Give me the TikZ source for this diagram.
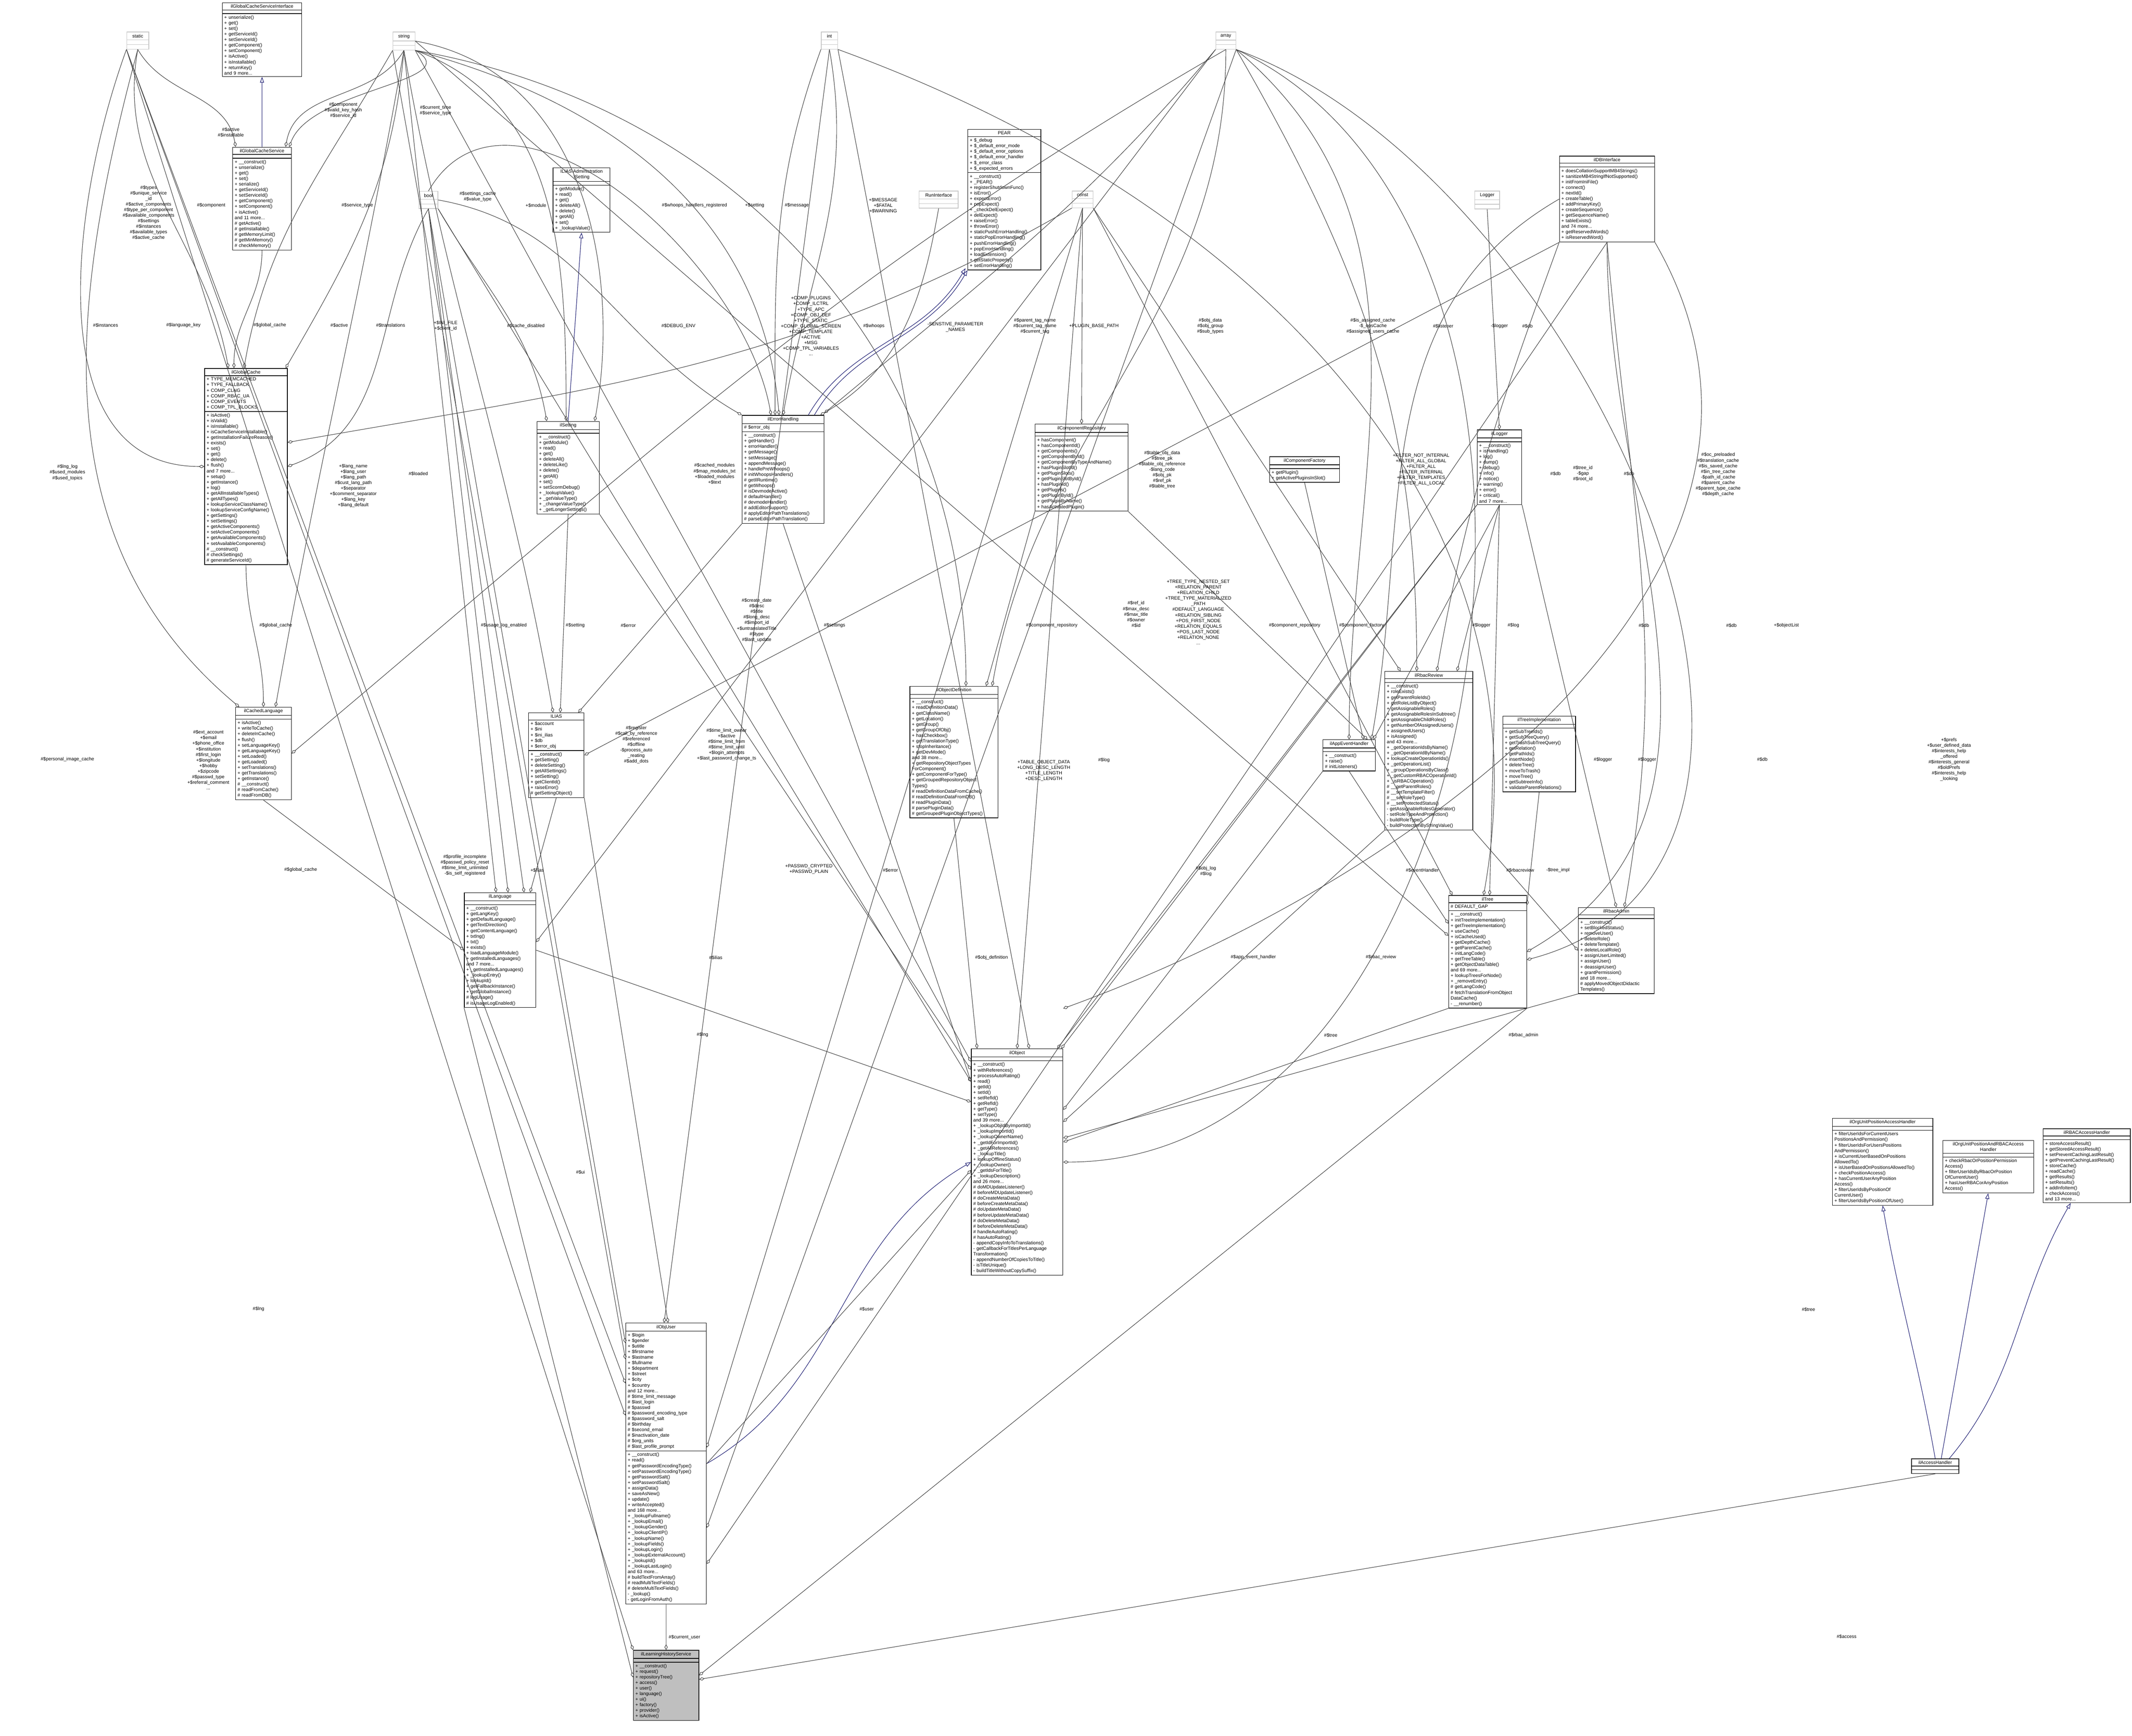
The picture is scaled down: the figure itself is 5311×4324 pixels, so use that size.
\documentclass[tikz,border=0pt]{standalone}
\usepackage{fontspec}
\setmainfont{Liberation Sans}
\usetikzlibrary{shapes.multipart,arrows.meta,calc}
\newcommand\vH{\#\$}
\newcommand\vP{+\$}
\newcommand\vM{-\$}
\definecolor{edgegray}{HTML}{404040}
\definecolor{inhblue}{HTML}{191970}
\tikzset{
  cls/.style={rectangle split, rectangle split parts=3, draw, line width=0.4pt,
    rectangle split empty part height=0.13cm, inner xsep=0.05cm, inner ysep=0.04cm,
    text width=#1, align=left, anchor=north west, font=\fontsize{3.3}{3.95}\selectfont, fill=white},
  typ/.style={rectangle split, rectangle split parts=3, draw=gray!45, line width=0.4pt,
    rectangle split empty part height=0.16cm, inner xsep=0.03cm, inner ysep=0.05cm,
    text width=#1, align=center, anchor=north west, font=\fontsize{3.3}{3.95}\selectfont, fill=white},
  lbl/.style={align=center, inner sep=0pt, font=\fontsize{3.3}{3.95}\selectfont},
  agg/.style={draw=edgegray, line width=0.35pt, -{Diamond[open,length=0.14cm,width=0.08cm]}},
  inh/.style={draw=inhblue, line width=0.35pt, -{Triangle[open,length=0.14cm,width=0.1cm]}}
}
\begin{document}
\begin{tikzpicture}[x=0.01cm,y=-0.01cm]
  \useasboundingbox (0,0) rectangle (5311,4324);

  % builtin types
  \node[typ=0.49cm] (static) at (315,79) {static\nodepart{two}\nodepart{three}};
  \node[typ=0.49cm] (string) at (978,79) {string\nodepart{two}\nodepart{three}};
  \node[typ=0.35cm] (int) at (2045,79) {int\nodepart{two}\nodepart{three}};
  \node[typ=0.44cm] (array) at (3028,79) {array\nodepart{two}\nodepart{three}};
  \node[typ=0.41cm] (bool) at (1043,476) {bool\nodepart{two}\nodepart{three}};
  \node[typ=0.46cm] (const) at (2670,475) {const\nodepart{two}\nodepart{three}};
  \node[typ=0.56cm] (logger) at (3673,475) {Logger\nodepart{two}\nodepart{three}};
  \node[typ=0.91cm] (runif) at (2289,475) {RunInterface\nodepart{two}\nodepart{three}};

  % classes
  \node[cls=1.88cm] (gcsi) at (553,6) {{\centering ilGlobalCacheServiceInterface\par}\nodepart{two}\nodepart{three}
    + unserialize()\\+ get()\\+ set()\\+ getServiceId()\\+ setServiceId()\\+ getComponent()\\+ setComponent()\\+ isActive()\\+ isInstallable()\\+ returnKey()\\and 9 more...};
  \node[cls=1.36cm] (gcs) at (579,366) {{\centering ilGlobalCacheService\par}\nodepart{two}\nodepart{three}
    + \_\_construct()\\+ unserialize()\\+ get()\\+ set()\\+ serialize()\\+ getServiceId()\\+ setServiceId()\\+ getComponent()\\+ setComponent()\\+ isActive()\\and 11 more...\\\# getActive()\\\# getInstallable()\\\# getMemoryLimit()\\\# getMinMemory()\\\# checkMemory()};
  \node[cls=1.96cm] (gc) at (509,917) {{\centering ilGlobalCache\par}\nodepart{two}
    + TYPE\_MEMCACHED\\+ TYPE\_FALLBACK\\+ COMP\_CLNG\\+ COMP\_RBAC\_UA\\+ COMP\_EVENTS\\+ COMP\_TPL\_BLOCKS\nodepart{three}
    + isActive()\\+ isValid()\\+ isInstallable()\\+ isCacheServiceInstallable()\\+ getInstallationFailureReason()\\+ exists()\\+ set()\\+ get()\\+ delete()\\+ flush()\\and 7 more...\\+ setup()\\+ getInstance()\\+ log()\\+ getAllInstallableTypes()\\+ getAllTypes()\\+ lookupServiceClassName()\\+ lookupServiceConfigName()\\+ getSettings()\\+ setSettings()\\+ getActiveComponents()\\+ setActiveComponents()\\+ getAvailableComponents()\\+ setAvailableComponents()\\\# \_\_construct()\\\# checkSettings()\\\# generateServiceId()};
  \node[cls=1.29cm] (cl) at (586,1761) {{\centering ilCachedLanguage\par}\nodepart{two}\nodepart{three}
    + isActive()\\+ writeToCache()\\+ deleteInCache()\\+ flush()\\+ setLanguageKey()\\+ getLanguageKey()\\+ setLoaded()\\+ getLoaded()\\+ setTranslations()\\+ getTranslations()\\+ getInstance()\\\# \_\_construct()\\\# readFromCache()\\\# readFromDB()};
  \node[cls=1.32cm] (ads) at (1377,417) {{\centering ILIAS\textbackslash Administration\\\textbackslash Setting\par}\nodepart{two}\nodepart{three}
    + getModule()\\+ read()\\+ get()\\+ deleteAll()\\+ delete()\\+ getAll()\\+ set()\\+ \_lookupValue()};
  \node[cls=1.45cm] (ils) at (1337,1049) {{\centering ilSetting\par}\nodepart{two}\nodepart{three}
    + \_\_construct()\\+ getModule()\\+ read()\\+ get()\\+ deleteAll()\\+ deleteLike()\\+ delete()\\+ getAll()\\+ set()\\+ setScormDebug()\\+ \_lookupValue()\\+ \_getValueType()\\+ \_changeValueType()\\+ \_getLongerSettings()};
  \node[cls=1.94cm] (eh) at (1848,1034) {{\centering ilErrorHandling\par}\nodepart{two}\# \$error\_obj\nodepart{three}
    + \_\_construct()\\+ getHandler()\\+ errorHandler()\\+ getMessage()\\+ setMessage()\\+ appendMessage()\\+ handlePreWhoops()\\\# initWhoopsHandlers()\\\# getIlRuntime()\\\# getWhoops()\\\# isDevmodeActive()\\\# defaultHandler()\\\# devmodeHandler()\\\# addEditorSupport()\\\# applyEditorPathTranslations()\\\# parseEditorPathTranslation()};
  \node[cls=1.72cm] (pear) at (2410,322) {{\centering PEAR\par}\nodepart{two}
    + \$\_debug\\+ \$\_default\_error\_mode\\+ \$\_default\_error\_options\\+ \$\_default\_error\_handler\\+ \$\_error\_class\\+ \$\_expected\_errors\nodepart{three}
    + \_\_construct()\\+ \_PEAR()\\+ registerShutdownFunc()\\+ isError()\\+ expectError()\\+ popExpect()\\+ \_checkDelExpect()\\+ delExpect()\\+ raiseError()\\+ throwError()\\+ staticPushErrorHandling()\\+ staticPopErrorHandling()\\+ pushErrorHandling()\\+ popErrorHandling()\\+ loadExtension()\\+ getStaticProperty()\\+ setErrorHandling()};
  \node[cls=2.21cm] (crep) at (2578,1056) {{\centering ilComponentRepository\par}\nodepart{two}\nodepart{three}
    + hasComponent()\\+ hasComponentId()\\+ getComponents()\\+ getComponentById()\\+ getComponentByTypeAndName()\\+ hasPluginSlotId()\\+ getPluginSlots()\\+ getPluginSlotById()\\+ hasPluginId()\\+ getPlugins()\\+ getPluginById()\\+ getPluginByName()\\+ hasActivatedPlugin()};
  \node[cls=1.64cm] (cfac) at (3162,1137) {{\centering ilComponentFactory\par}\nodepart{two}\nodepart{three}
    + getPlugin()\\+ getActivePluginsInSlot()};
  \node[cls=1.01cm] (ilog) at (3679,1070) {{\centering ilLogger\par}\nodepart{two}\nodepart{three}
    + \_\_construct()\\+ isHandling()\\+ log()\\+ dump()\\+ debug()\\+ info()\\+ notice()\\+ warning()\\+ error()\\+ critical()\\and 7 more...};
  \node[cls=2.27cm] (dbi) at (3884,388) {{\centering ilDBInterface\par}\nodepart{two}\nodepart{three}
    + doesCollationSupportMB4Strings()\\+ sanitizeMB4StringIfNotSupported()\\+ initFromIniFile()\\+ connect()\\+ nextId()\\+ createTable()\\+ addPrimaryKey()\\+ createSequence()\\+ getSequenceName()\\+ tableExists()\\and 74 more...\\+ getReservedWords()\\+ isReservedWord()};
  \node[cls=2.09cm] (odef) at (2266,1709) {{\centering ilObjectDefinition\par}\nodepart{two}\nodepart{three}
    + \_\_construct()\\+ readDefinitionData()\\+ getClassName()\\+ getLocation()\\+ getGroup()\\+ getGroupOfObj()\\+ hasCheckbox()\\+ getTranslationType()\\+ stopInheritance()\\+ getDevMode()\\and 38 more...\\+ getRepositoryObjectTypes\\ForComponent()\\+ getComponentForType()\\+ getGroupedRepositoryObject\\Types()\\\# readDefinitionDataFromCache()\\\# readDefinitionDataFromDB()\\\# readPluginData()\\\# parsePluginData()\\\# getGroupedPluginObjectTypes()};
  \node[cls=1.20cm] (aeh) at (3295,1842) {{\centering ilAppEventHandler\par}\nodepart{two}\nodepart{three}
    + \_\_construct()\\+ raise()\\\# initListeners()};
  \node[cls=2.09cm] (rrev) at (3449,1672) {{\centering ilRbacReview\par}\nodepart{two}\nodepart{three}
    + \_\_construct()\\+ roleExists()\\+ getParentRoleIds()\\+ getRoleListByObject()\\+ getAssignableRoles()\\+ getAssignableRolesInSubtree()\\+ getAssignableChildRoles()\\+ getNumberOfAssignedUsers()\\+ assignedUsers()\\+ isAssigned()\\and 43 more...\\+ \_getOperationIdsByName()\\+ \_getOperationIdByName()\\+ lookupCreateOperationIds()\\+ \_getOperationList()\\+ \_groupOperationsByClass()\\+ \_getCustomRBACOperationId()\\+ \_isRBACOperation()\\\# \_\_getParentRoles()\\\# \_\_setTemplateFilter()\\\# \_\_setRoleType()\\\# \_\_setProtectedStatus()\\- getAssignableRolesGenerator()\\- setRoleTypeAndProtection()\\- buildRoleType()\\- buildProtectionByStringValue()};
  \node[cls=1.71cm] (timpl) at (3743,1783) {{\centering ilTreeImplementation\par}\nodepart{two}\nodepart{three}
    + getSubTreeIds()\\+ getSubTreeQuery()\\+ getTrashSubTreeQuery()\\+ getRelation()\\+ getPathIds()\\+ insertNode()\\+ deleteTree()\\+ moveToTrash()\\+ moveTree()\\+ getSubtreeInfo()\\+ validateParentRelations()};
  \node[cls=1.84cm] (tree) at (3608,2230) {{\centering ilTree\par}\nodepart{two}\# DEFAULT\_GAP\nodepart{three}
    + \_\_construct()\\+ initTreeImplementation()\\+ getTreeImplementation()\\+ useCache()\\+ isCacheUsed()\\+ getDepthCache()\\+ getParentCache()\\+ initLangCode()\\+ getTreeTable()\\+ getObjectDataTable()\\and 69 more...\\+ lookupTreesForNode()\\+ \_removeEntry()\\\# getLangCode()\\\# fetchTranslationFromObject\\DataCache()\\- \_\_renumber()};
  \node[cls=1.79cm] (radm) at (3931,2260) {{\centering ilRbacAdmin\par}\nodepart{two}\nodepart{three}
    + \_\_construct()\\+ setBlockedStatus()\\+ removeUser()\\+ deleteRole()\\+ deleteTemplate()\\+ deleteLocalRole()\\+ assignUserLimited()\\+ assignUser()\\+ deassignUser()\\+ grantPermission()\\and 18 more...\\\# applyMovedObjectDidactic\\Templates()};
  \node[cls=1.28cm] (ilias) at (1316,1775) {{\centering ILIAS\par}\nodepart{two}
    + \$account\\+ \$ini\\+ \$ini\_ilias\\+ \$db\\+ \$error\_obj\nodepart{three}
    + \_\_construct()\\+ getSetting()\\+ deleteSetting()\\+ getAllSettings()\\+ setSetting()\\+ getClientId()\\+ raiseError()\\\# getSettingObject()};
  \node[cls=1.68cm] (lang) at (1156,2223) {{\centering ilLanguage\par}\nodepart{two}\nodepart{three}
    + \_\_construct()\\+ getLangKey()\\+ getDefaultLanguage()\\+ getTextDirection()\\+ getContentLanguage()\\+ txtlng()\\+ txt()\\+ exists()\\+ loadLanguageModule()\\+ getInstalledLanguages()\\and 7 more...\\+ \_getInstalledLanguages()\\+ \_lookupEntry()\\+ lookupId()\\+ getFallbackInstance()\\+ getGlobalInstance()\\\# logUsage()\\\# isUsageLogEnabled()};
  \node[cls=2.18cm] (obj) at (2419,2612) {{\centering ilObject\par}\nodepart{two}\nodepart{three}
    + \_\_construct()\\+ withReferences()\\+ processAutoRating()\\+ read()\\+ getId()\\+ setId()\\+ setRefId()\\+ getRefId()\\+ getType()\\+ setType()\\and 39 more...\\+ \_lookupObjIdByImportId()\\+ \_lookupImportId()\\+ \_lookupOwnerName()\\+ \_getIdForImportId()\\+ \_getAllReferences()\\+ \_lookupTitle()\\+ lookupOfflineStatus()\\+ \_lookupOwner()\\+ \_getIdsForTitle()\\+ \_lookupDescription()\\and 26 more...\\\# doMDUpdateListener()\\\# beforeMDUpdateListener()\\\# doCreateMetaData()\\\# beforeCreateMetaData()\\\# doUpdateMetaData()\\\# beforeUpdateMetaData()\\\# doDeleteMetaData()\\\# beforeDeleteMetaData()\\\# handleAutoRating()\\\# hasAutoRating()\\- appendCopyInfoToTranslations()\\- getCallbackForTitlesPerLanguage\\Transformation()\\- appendNumberOfCopiesToTitle()\\- isTitleUnique()\\- buildTitleWithoutCopySuffix()};
  \node[cls=1.91cm] (user) at (1558,3295) {{\centering ilObjUser\par}\nodepart{two}
    + \$login\\+ \$gender\\+ \$utitle\\+ \$firstname\\+ \$lastname\\+ \$fullname\\+ \$department\\+ \$street\\+ \$city\\+ \$country\\and 12 more...\\\# \$time\_limit\_message\\\# \$last\_login\\\# \$passwd\\\# \$password\_encoding\_type\\\# \$password\_salt\\\# \$birthday\\\# \$second\_email\\\# \$inactivation\_date\\\# \$org\_units\\\# \$last\_profile\_prompt\nodepart{three}
    + \_\_construct()\\+ read()\\+ getPasswordEncodingType()\\+ setPasswordEncodingType()\\+ getPasswordSalt()\\+ setPasswordSalt()\\+ assignData()\\+ saveAsNew()\\+ update()\\+ writeAccepted()\\and 168 more...\\+ \_lookupFullname()\\+ \_lookupEmail()\\+ \_lookupGender()\\+ \_lookupClientIP()\\+ \_lookupName()\\+ \_lookupFields()\\+ \_lookupLogin()\\+ \_lookupExternalAccount()\\+ \_lookupId()\\+ \_lookupLastLogin()\\and 63 more...\\\# buildTextFromArray()\\\# readMultiTextFields()\\\# deleteMultiTextFields()\\- \_lookup()\\- getLoginFromAuth()};
  \node[cls=1.53cm, fill=gray!50] (lhs) at (1577,4110) {{\centering ilLearningHistoryService\par}\nodepart{two}\nodepart{three}
    + \_\_construct()\\+ request()\\+ repositoryTree()\\+ access()\\+ user()\\+ language()\\+ ui()\\+ factory()\\+ provider()\\+ isActive()};
  \node[cls=2.40cm] (opa) at (4564,2785) {{\centering ilOrgUnitPositionAccessHandler\par}\nodepart{two}\nodepart{three}
    + filterUserIdsForCurrentUsers\\PositionsAndPermission()\\+ filterUserIdsForUsersPositions\\AndPermission()\\+ isCurrentUserBasedOnPositions\\AllowedTo()\\+ isUserBasedOnPositionsAllowedTo()\\+ checkPositionAccess()\\+ hasCurrentUserAnyPosition\\Access()\\+ filterUserIdsByPositionOf\\CurrentUser()\\+ filterUserIdsByPositionOfUser()};
  \node[cls=2.16cm] (opr) at (4839,2840) {{\centering ilOrgUnitPositionAndRBACAccess\\Handler\par}\nodepart{two}\nodepart{three}
    + checkRbacOrPositionPermission\\Access()\\+ filterUserIdsByRbacOrPosition\\OfCurrentUser()\\+ hasUserRBACorAnyPosition\\Access()};
  \node[cls=2.07cm] (rah) at (5089,2811) {{\centering ilRBACAccessHandler\par}\nodepart{two}\nodepart{three}
    + storeAccessResult()\\+ getStoredAccessResult()\\+ setPreventCachingLastResult()\\+ getPreventCachingLastResult()\\+ storeCache()\\+ readCache()\\+ getResults()\\+ setResults()\\+ addInfoItem()\\+ checkAccess()\\and 13 more...};
  \node[cls=1.08cm] (acc) at (4761,3633) {{\centering ilAccessHandler\par}\nodepart{two}\nodepart{three}};

  % inheritance
  \draw[inh] (gcs.north) -- (gcsi.south);
  \draw[inh] (ils.north) -- (ads.south);
  \draw[inh] ($(eh.north east)+(-40,0)$) to[out=60,in=-120] ($(pear.south west)+(-5,-5)$);
  \draw[inh] ($(eh.north east)+(-25,0)$) to[out=60,in=-120] ($(pear.south west)+(0,0)$);
  \draw[inh] (user.east) to[out=30,in=-150] (obj.west);
  \draw[inh] (acc.north) to[out=100,in=-80] (opa.south);
  \draw[inh] ($(acc.north)+(15,0)$) to[out=80,in=-100] (opr.south);
  \draw[inh] ($(acc.north)+(35,0)$) to[out=50,in=-120] ($(rah.south)+(-40,0)$);

  % aggregation
  \draw[agg] (static.south) to[out=-60,in=100] ($(gcs.north west)+(8,0)$);
  \draw[agg] (string.south) to[out=-120,in=80] ($(gcs.north east)+(-15,0)$);
  \draw[agg] (string.south east) to[out=-30,in=70] ($(gcs.north east)+(-6,0)$);
  \draw[agg] (static.south) to[out=-100,in=100] ($(gc.north west)+(60,0)$);
  \draw[agg] (string.south west) to[out=-120,in=80] ($(gc.north)+(-5,0)$);
  \draw[agg] (string.south) to[out=-95,in=60] ($(gc.north east)+(-5,0)$);
  \draw[agg] (static.south west) to[out=-110,in=180] (gc.west);
  \draw[agg] (gcs.south) to[out=-90,in=90] ($(gc.north)+(-30,0)$);
  \draw[agg] (bool.south) to[out=-120,in=20] (gc.east);
  \draw[agg] (string.south) to[out=-100,in=80] ($(cl.north)+(30,0)$);
  \draw[agg] (array.south) to[out=-150,in=40] (cl.east);
  \draw[agg] (gc.south) to[out=-90,in=90] (cl.north);
  \draw[agg] (static.south) to[out=-105,in=140] ($(cl.north west)+(10,0)$);
  \draw[agg] (string.south) to[out=-80,in=100] ($(ilias.north)+(-8,0)$);
  \draw[agg] (bool.south east) to[out=-60,in=100] ($(ils.north west)+(25,0)$);
  \draw[agg] (string.south east) to[out=-20,in=90] ($(ils.north)+(-5,0)$);
  \draw[agg] (string.east) to[out=-10,in=80] ($(ils.north east)+(-12,0)$);
  \draw[agg] (bool.east) to[out=-10,in=150] (eh.north west);
  \draw[agg] (bool.north) to[out=60,in=100] ($(eh.north)+(-30,0)$);
  \draw[agg] (int.south west) to[out=-110,in=90] ($(eh.north)+(-20,0)$);
  \draw[agg] (string.south east) to[out=-15,in=95] ($(eh.north)+(-10,0)$);
  \draw[agg] (int.south) to[out=-80,in=80] ($(eh.north)+(0,0)$);
  \draw[agg] (runif.south) to[out=-100,in=30] ($(eh.north east)+(-10,0)$);
  \draw[agg] (array.south west) to[out=-130,in=40] ($(eh.north east)+(0,-5)$);
  \draw[agg] (const.south west) to[out=-150,in=10] ($(gc.east)+(0,-60)$);
  \draw[agg] (string.south east) to[out=-10,in=90] ($(odef.north)+(30,0)$);
  \draw[agg] (const.south) -- (crep.north);
  \draw[agg] (array.south) to[out=-90,in=80] ($(odef.north east)+(-15,0)$);
  \draw[agg] (array.south east) to[out=-60,in=90] ($(rrev.north)+(-30,0)$);
  \draw[agg] (array.south east) to[out=-40,in=90] ($(aeh.north)+(0,0)$);
  \draw[agg] (logger.south) -- (ilog.north);
  \draw[agg] (dbi.west) to[out=-150,in=80] ($(aeh.north east)+(-10,0)$);
  \draw[agg] (dbi.south west) to[out=-110,in=80] ($(rrev.north)+(20,0)$);
  \draw[agg] (int.south east) to[out=-20,in=80] ($(tree.north)+(-10,0)$);
  \draw[agg] (dbi.south) to[out=-90,in=30] (tree.east);
  \draw[agg] (dbi.south) to[out=-85,in=80] ($(radm.north)+(20,0)$);
  \draw[agg] (dbi.south east) to[out=-60,in=20] ($(obj.north east)+(0,-100)$);
  \draw[agg] (array.south east) to[out=-25,in=0] (obj.east);
  \draw[agg] (array.south east) to[out=-20,in=15] ($(tree.east)+(0,20)$);
  \draw[agg] (array.south east) -- ($(user.east)+(0,160)$);
  \draw[agg] (dbi.south) -- ($(user.east)+(0,250)$);
  \draw[agg] (dbi.south west) -- (ilias.east);
  \draw[agg] (ils.south) -- ($(ilias.north)+(10,0)$);
  \draw[agg] (bool.south) -- ($(lang.north east)+(-30,0)$);
  \draw[agg] (eh.south west) -- ($(ilias.north east)+(-15,0)$);
  \draw[agg] (array.south west) -- ($(lang.east)+(0,-20)$);
  \draw[agg] (string.south) -- ($(lang.north)+(-10,0)$);
  \draw[agg] (bool.south) -- ($(lang.north)+(20,0)$);
  \draw[agg] (bool.south) -- ($(user.west)+(0,-300)$);
  \draw[agg] (ilias.south) -- ($(lang.north east)+(-15,0)$);
  \draw[agg] (ilias.south east) -- ($(user.north)+(5,0)$);
  \draw[agg] (lang.east) -- ($(obj.west)+(0,-150)$);
  \draw[agg] (bool.south east) -- ($(obj.west)+(0,-200)$);
  \draw[agg] (int.south) -- ($(user.north)+(-5,0)$);
  \draw[agg] (const.south) -- ($(user.east)+(0,-40)$);
  \draw[agg] (string.south east) -- ($(obj.west)+(0,-250)$);
  \draw[agg] (odef.south) -- ($(obj.north west)+(15,0)$);
  \draw[agg] (const.south) -- (obj.north);
  \draw[agg] (ilog.south west) -- ($(obj.north east)+(-15,0)$);
  \draw[agg] (int.south east) -- ($(obj.north)+(30,0)$);
  \draw[agg] (const.south east) -- ($(tree.north west)+(10,0)$);
  \draw[agg] (crep.south west) -- ($(odef.north east)+(-30,0)$);
  \draw[agg] (crep.south east) -- ($(aeh.north east)+(-20,0)$);
  \draw[agg] (cfac.south) -- ($(aeh.north east)+(-30,0)$);
  \draw[agg] (string.east) -- ($(tree.west)+(0,-40)$);
  \draw[agg] (const.south east) -- ($(rrev.north west)+(40,0)$);
  \draw[agg] (ilog.south) -- ($(rrev.north east)+(-40,0)$);
  \draw[agg] (ilog.south) -- ($(aeh.north east)+(-5,0)$);
  \draw[agg] (ilog.south) -- ($(tree.north)+(5,0)$);
  \draw[agg] (ilog.south east) -- ($(radm.north)+(0,0)$);
  \draw[agg] (rrev.south east) -- (radm.west);
  \draw[agg] (timpl.south) -- ($(tree.north east)+(0,25)$);
  \draw[agg] (aeh.south) -- ($(tree.west)+(0,-70)$);
  \draw[agg] (rrev.south west) -- ($(obj.east)+(0,-100)$);
  \draw[agg] (aeh.south west) -- ($(obj.east)+(0,-130)$);
  \draw[agg] (tree.south west) -- ($(obj.east)+(0,-50)$);
  \draw[agg] (radm.south west) -- ($(obj.east)+(0,-60)$);
  \draw[agg] (ilog.south west) -- ($(obj.north east)+(-5,0)$);
  \draw[agg] (eh.south) -- ($(obj.west)+(0,-200)$);
  \draw[agg] (ils.south east) -- ($(obj.west)+(0,-230)$);
  \draw[agg] (user.east) -- ($(obj.west)+(0,20)$);
  \draw[agg] (user.south) -- (lhs.north);
  \draw[agg] (tree.south east) -- ($(lhs.east)+(0,-25)$);
  \draw[agg] (acc.south) -- ($(lhs.east)+(0,-15)$);
  \draw[agg] (lang.south west) -- ($(lhs.west)+(0,-20)$);
  \draw[agg] (static.south west) -- (lhs.north west);
  \draw[agg] (static.south west) -- ($(user.west)+(0,-120)$);
  \draw[agg] (static.south west) -- ($(user.west)+(0,-200)$);
  \draw[agg] (string.south west) -- ($(user.west)+(0,-260)$);
  \draw[agg] (cl.south) -- (lang.west);

  % labels
  \node[lbl] (l01) at (575,330) {\vH active\\\vH installable};
  \node[lbl] (l02) at (855,275) {\vH component\\\vH valid\_key\_hash\\\vH service\_id};
  \node[lbl] (l03) at (1085,275) {\vH current\_time\\\vH service\_type};
  \node[lbl] (l04) at (370,530) {\vH types\\\vH unique\_service\\\_id\\\vH active\_components\\\vH type\_per\_component\\\vH available\_components\\\vH settings\\\vH instances\\\vH available\_types\\\vH active\_cache};
  \node[lbl] (l05) at (526,512) {\vH component};
  \node[lbl] (l06) at (890,512) {\vH service\_type};
  \node[lbl] (l07) at (263,810) {\vH instances};
  \node[lbl] (l08) at (457,810) {\vH language\_key};
  \node[lbl] (l09) at (672,810) {\vH global\_cache};
  \node[lbl] (l10) at (845,810) {\vH active};
  \node[lbl] (l11) at (973,810) {\vH translations};
  \node[lbl] (l12) at (1110,812) {\vP INI\_FILE\\\vP client\_id};
  \node[lbl] (l13) at (1310,812) {\vH cache\_disabled};
  \node[lbl] (l14) at (1335,512) {\vP module};
  \node[lbl] (l15) at (1190,490) {\vH settings\_cache\\\vH value\_type};
  \node[lbl] (l16) at (1690,812) {\vH DEBUG\_ENV};
  \node[lbl] (l17) at (1730,512) {\vH whoops\_handlers\_registered};
  \node[lbl] (l18) at (1880,512) {\vP setting};
  \node[lbl] (l19) at (1985,512) {\vH message};
  \node[lbl] (l20) at (2200,512) {\vP MESSAGE\\\vP FATAL\\\vP WARNING};
  \node[lbl] (l21) at (2020,812) {+COMP\_PLUGINS\\+COMP\_ILCTRL\\+TYPE\_APC\\+COMP\_OBJ\_DEF\\+TYPE\_STATIC\\+COMP\_GLOBAL\_SCREEN\\+COMP\_TEMPLATE\\+ACTIVE\\+MSG\\+COMP\_TPL\_VARIABLES\\...};
  \node[lbl] (l22) at (2177,812) {\vH whoops};
  \node[lbl] (l23) at (2380,815) {-SENSTIVE\_PARAMETER\\\_NAMES};
  \node[lbl] (l24) at (2578,812) {\vH parent\_tag\_name\\\vH current\_tag\_name\\\vH current\_tag};
  \node[lbl] (l25) at (2725,812) {+PLUGIN\_BASE\_PATH};
  \node[lbl] (l26) at (3015,812) {\vH obj\_data\\\vH obj\_group\\\vH sub\_types};
  \node[lbl] (l27) at (3420,812) {\vH is\_assigned\_cache\\\vM \_opsCache\\\vH assigned\_users\_cache};
  \node[lbl] (l28) at (3595,812) {\vH listener};
  \node[lbl] (l29) at (3735,812) {\vM logger};
  \node[lbl] (l30) at (3805,812) {\vH db};
  \node[lbl] (l31) at (1433,1558) {\vH setting};
  \node[lbl] (l32) at (1255,1558) {\vH usage\_log\_enabled};
  \node[lbl] (l33) at (1565,1558) {\vH error};
  \node[lbl] (l34) at (1780,1180) {\vH cached\_modules\\\vH map\_modules\_txt\\\vP loaded\_modules\\\vP text};
  \node[lbl] (l35) at (880,1210) {\vP lang\_name\\\vP lang\_user\\\vP lang\_path\\\vH cust\_lang\_path\\\vP separator\\\vP comment\_separator\\\vP lang\_key\\\vP lang\_default};
  \node[lbl] (l36) at (1042,1180) {\vH loaded};
  \node[lbl] (l37) at (1158,2155) {\vH profile\_incomplete\\\vH passwd\_policy\_reset\\\vH time\_limit\_unlimited\\\vM is\_self\_registered};
  \node[lbl] (l38) at (1338,2168) {\vP ilias};
  \node[lbl] (l39) at (1783,2385) {\vH ilias};
  \node[lbl] (l40) at (1750,2578) {\vH lng};
  \node[lbl] (l41) at (1585,1855) {\vH register\\\vH call\_by\_reference\\\vH referenced\\\vH offline\\\vM process\_auto\\\_reating\\\vH add\_dots};
  \node[lbl] (l42) at (1810,1855) {\vH time\_limit\_owner\\\vP active\\\vH time\_limit\_from\\\vH time\_limit\_until\\\vP login\_attempts\\\vP last\_password\_change\_ts};
  \node[lbl] (l43) at (2015,2165) {+PASSWD\_CRYPTED\\+PASSWD\_PLAIN};
  \node[lbl] (l44) at (1885,1545) {\vH create\_date\\\vH desc\\\vH title\\\vH long\_desc\\\vH import\_id\\\vP untranslatedTitle\\\vH type\\\vH last\_update};
  \node[lbl] (l45) at (2470,2385) {\vH obj\_definition};
  \node[lbl] (l46) at (2600,1920) {+TABLE\_OBJECT\_DATA\\+LONG\_DESC\_LENGTH\\+TITLE\_LENGTH\\+DESC\_LENGTH};
  \node[lbl] (l47) at (2750,1893) {\vH log};
  \node[lbl] (l48) at (2830,1530) {\vH ref\_id\\\vH max\_desc\\\vH max\_title\\\vH owner\\\vH id};
  \node[lbl] (l49) at (2985,1525) {+TREE\_TYPE\_NESTED\_SET\\+RELATION\_PARENT\\+RELATION\_CHILD\\+TREE\_TYPE\_MATERIALIZED\\\_PATH\\\#DEFAULT\_LANGUAGE\\+RELATION\_SIBLING\\+POS\_FIRST\_NODE\\+RELATION\_EQUALS\\+POS\_LAST\_NODE\\+RELATION\_NONE\\...};
  \node[lbl] (l50) at (2620,1558) {\vH component\_repository};
  \node[lbl] (l51) at (3225,1558) {\vH component\_repository};
  \node[lbl] (l52) at (3392,1558) {\vH component\_factory};
  \node[lbl] (l53) at (2895,1170) {\vH table\_obj\_data\\\vH tree\_pk\\\vH table\_obj\_reference\\\vM lang\_code\\\vH obj\_pk\\\vH ref\_pk\\\vH table\_tree};
  \node[lbl] (l54) at (3540,1170) {+FILTER\_NOT\_INTERNAL\\+FILTER\_ALL\_GLOBAL\\+FILTER\_ALL\\+FILTER\_INTERNAL\\+FILTER\_TEMPLATES\\+FILTER\_ALL\_LOCAL};
  \node[lbl] (l55) at (3690,1558) {\vH logger};
  \node[lbl] (l56) at (3770,1558) {\vH log};
  \node[lbl] (l57) at (3875,1180) {\vH db};
  \node[lbl] (l58) at (3943,1180) {\vH tree\_id\\\vM gap\\\vH root\_id};
  \node[lbl] (l59) at (4058,1180) {\vH db};
  \node[lbl] (l60) at (4095,1558) {\vH db};
  \node[lbl] (l61) at (4313,1558) {\vH db};
  \node[lbl] (l62) at (4450,1558) {\vP objectList};
  \node[lbl] (l63) at (3993,1892) {\vH logger};
  \node[lbl] (l64) at (4103,1892) {\vH logger};
  \node[lbl] (l65) at (4390,1892) {\vH db};
  \node[lbl] (l66) at (4855,1892) {\vP prefs\\\vP user\_defined\_data\\\vH interests\_help\\\_offered\\\vH interests\_general\\\vH oldPrefs\\\vH interests\_help\\\_looking};
  \node[lbl] (l67) at (4280,1182) {\vH oc\_preloaded\\\vH translation\_cache\\\vH is\_saved\_cache\\\vH in\_tree\_cache\\\vM path\_id\_cache\\\vH parent\_cache\\\vH parent\_type\_cache\\\vH depth\_cache};
  \node[lbl] (l68) at (3787,2168) {\vH rbacreview};
  \node[lbl] (l69) at (3881,2168) {\vM tree\_impl};
  \node[lbl] (l70) at (3543,2168) {\vH eventHandler};
  \node[lbl] (l71) at (3440,2384) {\vH rbac\_review};
  \node[lbl] (l72) at (3122,2384) {\vH app\_event\_handler};
  \node[lbl] (l73) at (3315,2579) {\vH tree};
  \node[lbl] (l74) at (3795,2578) {\vH rbac\_admin};
  \node[lbl] (l75) at (3004,2170) {\vH obj\_log\\\vH log};
  \node[lbl] (l76) at (2218,2168) {\vH error};
  \node[lbl] (l77) at (2079,1558) {\vH settings};
  \node[lbl] (l78) at (2159,3261) {\vH user};
  \node[lbl] (l79) at (1705,4078) {\vH current\_user};
  \node[lbl] (l80) at (4505,3262) {\vH tree};
  \node[lbl] (l81) at (4600,4076) {\vH access};
  \node[lbl] (l82) at (644,3261) {\vH lng};
  \node[lbl] (l83) at (1446,2920) {\vH ui};
  \node[lbl] (l84) at (168,1177) {\vH lng\_log\\\vH used\_modules\\\vH used\_topics};
  \node[lbl] (l85) at (168,1891) {\vH personal\_image\_cache};
  \node[lbl] (l86) at (519,1893) {\vH ext\_account\\\vP email\\\vP phone\_office\\\vP institution\\\vH first\_login\\\vP longitude\\\vP hobby\\\vP zipcode\\\vH passwd\_type\\\vP referral\_comment\\...};
  \node[lbl] (l87) at (687,1558) {\vH global\_cache};
  \node[lbl] (l88) at (749,2166) {\vH global\_cache};
\end{tikzpicture}
\end{document}
